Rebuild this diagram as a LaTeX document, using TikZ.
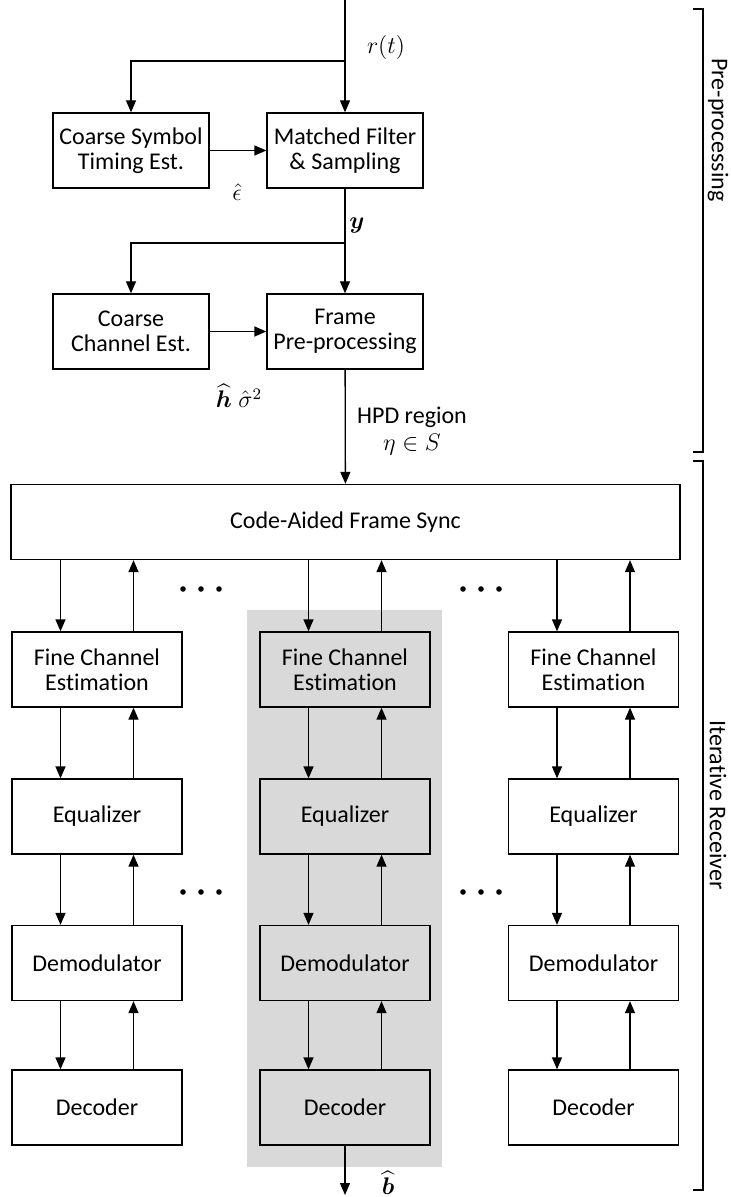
\documentclass[tikz,border=0pt]{standalone}
\usepackage{amsmath}
\usepackage{fontspec}
\setmainfont{Carlito}[Ligatures=NoCommon]
\usetikzlibrary{arrows.meta}
\definecolor{bgray}{RGB}{217,217,217}
\tikzset{
	blk/.style={draw, line width=0.65pt, align=center, inner sep=0pt, minimum height=37.5pt, font=\fontsize{12}{12.4}\selectfont},
	upbox/.style={blk, minimum width=78pt},
	lobox/.style={blk, minimum width=85pt},
	loboxg/.style={lobox, fill=bgray},
	arr/.style={line width=0.65pt, -{Triangle[length=6pt,width=5pt]}},
	ln/.style={line width=0.55pt},
	lbl/.style={inner sep=0pt, align=center, font=\fontsize{12}{13.5}\selectfont}
}
\begin{document}
\begin{tikzpicture}[x=0.5pt,y=-0.5pt]
	\useasboundingbox (0,0) rectangle (730,1197);
	\fill[bgray] (247,610) rectangle (442,1167);
	\node[upbox] (csym) at (131,150.5) {Coarse Symbol\\Timing Est.};
	\node[upbox] (mf) at (345,150.5) {Matched Filter\\\& Sampling};
	\node[upbox] (cch) at (131,331.5) {Coarse\\Channel Est.};
	\node[upbox] (fpp) at (345,331.5) {Frame\\Pre-processing};
	\node[blk, minimum width=334.5pt] (cafs) at (345.5,522) {Code-Aided Frame Sync};
	\coordinate (in) at (345,0);
	\coordinate (b1) at (345,61);
	\coordinate (b2) at (345,243);
	\draw[arr] (in) -- (mf);
	\draw[arr] (b1) -| (csym);
	\draw[arr] (csym) -- (mf);
	\draw[arr] (mf) -- (fpp);
	\draw[arr] (b2) -| (cch);
	\draw[arr] (cch) -- (fpp);
	\draw[arr] (fpp) -- (cafs);
	\node[lbl] (rt) at (386,48) {$r(t)$};
	\node[lbl] (eps) at (237,192) {$\hat{\epsilon}$};
	\node[lbl] (yv) at (357,226) {$\boldsymbol{y}$};
	\node[lbl] (hs) at (239,396) {$\widehat{\boldsymbol{h}}\;\hat{\sigma}^2$};
	\node[lbl] (hpd) at (412,431) {HPD region\\$\eta\in S$};
	\foreach \c/\x/\s in {L/97/lobox,M/345/loboxg,R/593.5/lobox}{
		\node[\s] (fce\c) at (\x,669.5) {Fine Channel\\Estimation};
		\node[\s] (eq\c) at (\x,816.5) {Equalizer};
		\node[\s] (dem\c) at (\x,963) {Demodulator};
		\node[\s] (dec\c) at (\x,1107.5) {Decoder};
		\draw[arr] ([xshift=-18.25pt]fce\c.north |- cafs.south) -- ([xshift=-18.25pt]fce\c.north);
		\draw[arr] ([xshift=18.25pt]fce\c.north) -- ([xshift=18.25pt]fce\c.north |- cafs.south);
		\foreach \a/\b in {fce/eq,eq/dem,dem/dec}{
			\draw[arr] ([xshift=-18.25pt]\a\c.south) -- ([xshift=-18.25pt]\b\c.north);
			\draw[arr] ([xshift=18.25pt]\b\c.north) -- ([xshift=18.25pt]\a\c.south);
		}
	}
	\foreach \y in {589,892}
		\foreach \x in {183,201,219,463,481,499}
			\fill (\x,\y) circle (2.8);
	\coordinate (bout) at (345,1195);
	\draw[arr] (decM) -- (bout);
	\node[lbl] (bh) at (388,1183) {$\widehat{\boldsymbol{b}}$};
	\draw[ln] (693,9) -- (703,9) -- (703,452) -- (693,452);
	\draw[ln] (693,461) -- (703,461) -- (703,1190) -- (693,1190);
	\node[lbl, rotate=-90] (pre) at (718,130) {Pre-processing};
	\node[lbl, rotate=-90] (itr) at (718,805) {Iterative Receiver};
\end{tikzpicture}
\end{document}
